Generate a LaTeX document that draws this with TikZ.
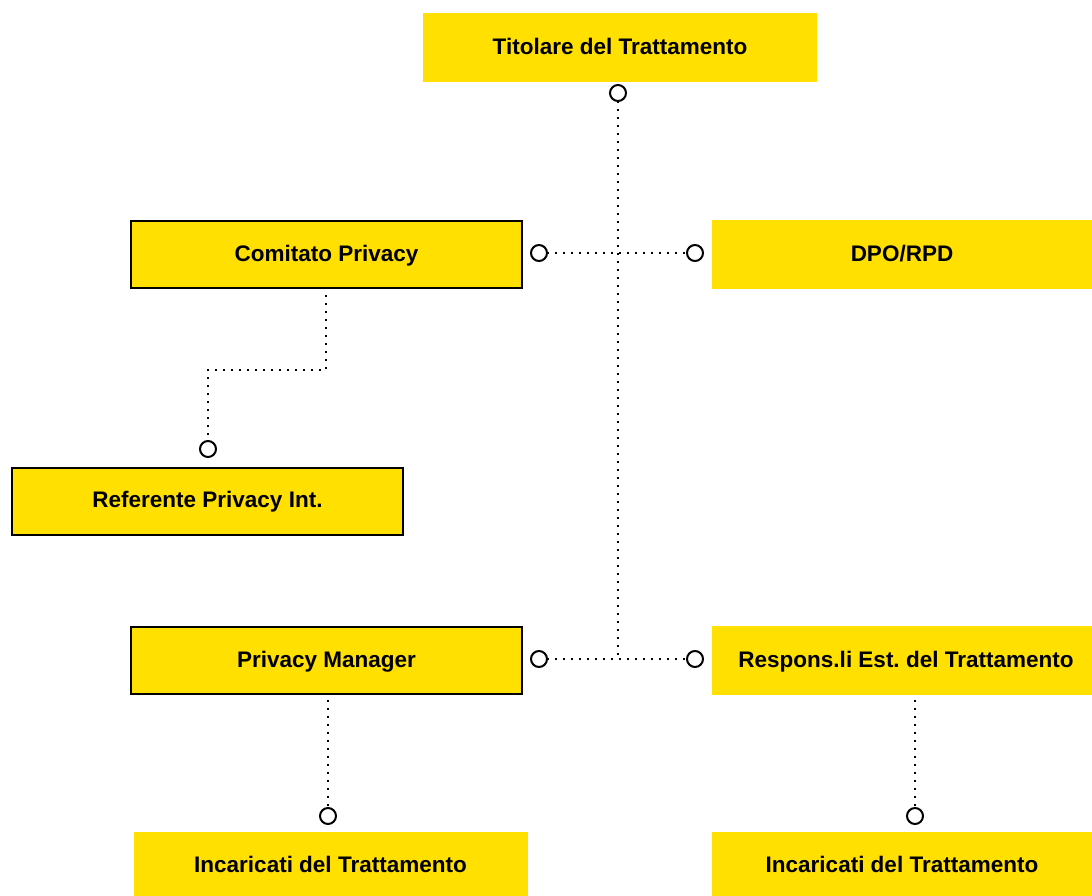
\documentclass[tikz,border=0pt]{standalone}
\usepackage{fontspec}
\setmainfont{Liberation Sans}
\definecolor{giallo}{HTML}{FFE000}
\frenchspacing
\begin{document}
\begin{tikzpicture}[x=1pt,y=-1pt,
  box/.style={fill=giallo, minimum width=394pt, minimum height=69pt, inner sep=0pt,
    text height=16pt, text depth=3pt, font=\bfseries\fontsize{22.5}{26}\selectfont},
  boxb/.style={box, draw=black, line width=2pt, minimum width=391pt, minimum height=67pt},
  boxr/.style={box, minimum width=380pt},
  port/.style={circle, draw=black, fill=white, line width=2pt, minimum size=16pt, inner sep=0pt},
  dots/.style={line width=2pt, dash pattern=on 2pt off 6pt}]
\useasboundingbox (0,0) rectangle (1092,895);
% caselle
\node[box]  (tit)  at (620,47.5)  {Titolare del Trattamento};
\node[boxb] (com)  at (326.5,254.5) {Comitato Privacy};
\node[boxr] (dpo)  at (902,254.5) {DPO/RPD};
\node[boxb] (ref)  at (207.5,501) {Referente Privacy Int.};
\node[boxb] (pm)   at (326.5,660.5) {Privacy Manager};
\node[boxr] (resp) at (902,660.5) {\hspace*{8pt}Respons.li Est. del Trattamento};
\node[box]  (inc1) at (330.5,866) {Incaricati del Trattamento};
\node[boxr] (inc2) at (902,866) {Incaricati del Trattamento};
% linee
\coordinate (j1) at (618,253);
\coordinate (j2) at (618,659);
\coordinate (k1) at (326,370);
\coordinate (k2) at (208,370);
\draw[dots] (618,101) -- (j2);
\draw[dots] (547,253) -- (687,253);
\draw[dots] (547,659) -- (687,659);
\draw[dots] (326,295) -- (k1) -- (k2) -- (208,441);
\draw[dots] (328,700) -- (328,808);
\draw[dots] (915,700) -- (915,808);
% attacchi
\node[port] (p1) at (618,93) {};
\node[port] (p2) at (539,253) {};
\node[port] (p3) at (695,253) {};
\node[port] (p4) at (208,449) {};
\node[port] (p5) at (539,659) {};
\node[port] (p6) at (695,659) {};
\node[port] (p7) at (328,816) {};
\node[port] (p8) at (915,816) {};
\end{tikzpicture}
\end{document}
